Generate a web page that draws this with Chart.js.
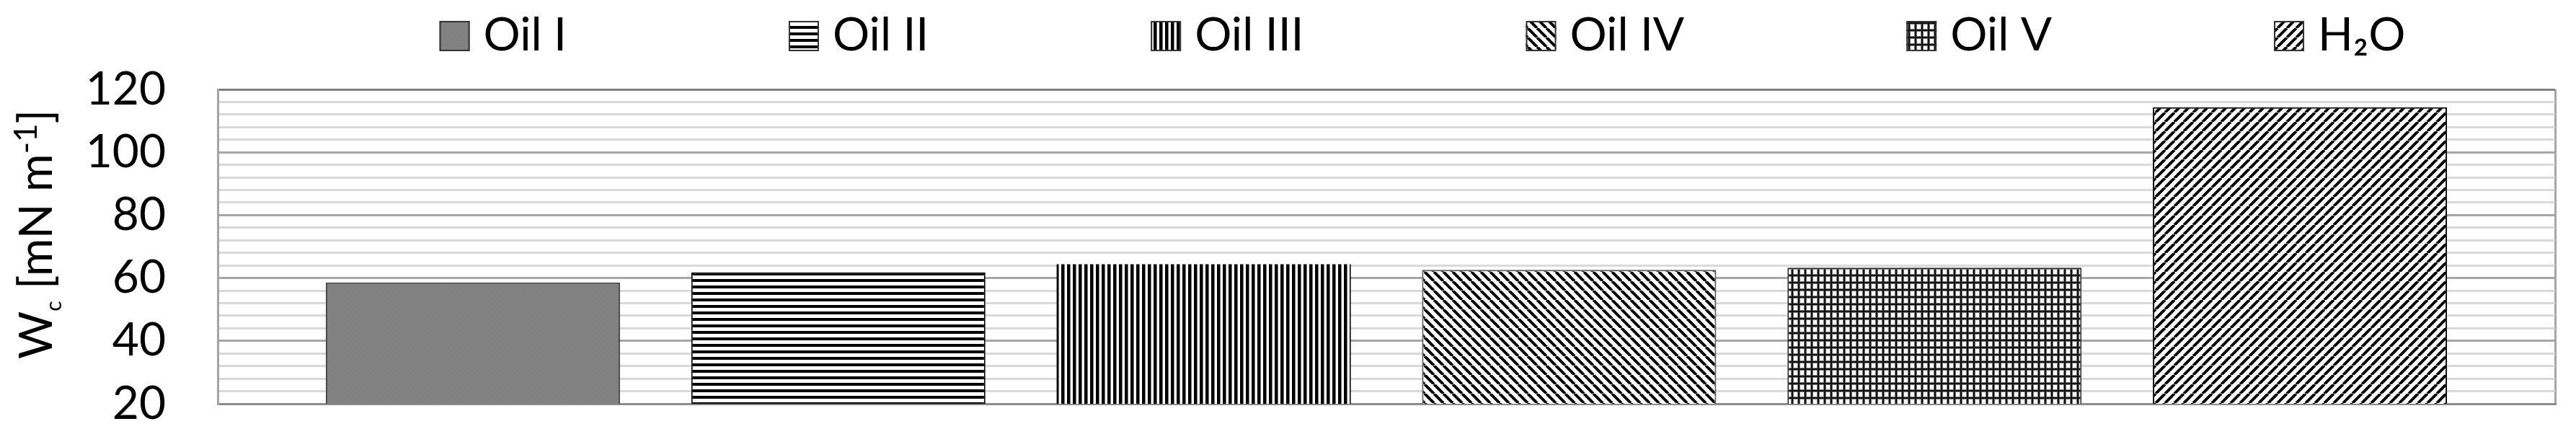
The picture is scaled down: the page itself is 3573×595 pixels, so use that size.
<!DOCTYPE html>
<html>
<head>
<meta charset="utf-8">
<script src="https://cdn.jsdelivr.net/npm/chart.js@4.4.0/dist/chart.umd.min.js"></script>
<style>
  html, body { margin: 0; padding: 0; background: #fff; }
  #wrap { width: 3573px; height: 595px; position: relative; }
</style>
</head>
<body>
<div id="wrap"><canvas id="wcChart"></canvas></div>
<script>
// Series shown (one category, one bar per liquid)
const seriesNames = ['Oil I', 'Oil II', 'Oil III', 'Oil IV', 'Oil V', 'H₂O'];
// Work of cohesion, mN/m
const workValues = [58.6, 61.8, 64.4, 62.6, 63.3, 114.3];
const categories = [''];
const yTickLabels = [20, 40, 60, 80, 100, 120];

const FONT = 'Lato, "Open Sans", sans-serif';

// Build the fill patterns used by the bars and the legend
function makePattern(kind) {
  const c = document.createElement('canvas');
  const g = c.getContext('2d');
  if (kind === 'dots') {
    c.width = 2; c.height = 2;
    g.fillStyle = '#777'; g.fillRect(0, 0, 2, 2);
    g.fillStyle = '#8a8a8a'; g.fillRect(0, 0, 1, 1); g.fillRect(1, 1, 1, 1);
  } else if (kind === 'hstripe') {
    c.width = 9; c.height = 9;
    g.fillStyle = '#fff'; g.fillRect(0, 0, 9, 9);
    g.fillStyle = '#000'; g.fillRect(0, 0, 9, 4);
  } else if (kind === 'vstripe') {
    c.width = 8; c.height = 8;
    g.fillStyle = '#fff'; g.fillRect(0, 0, 8, 8);
    g.fillStyle = '#777'; g.fillRect(0, 0, 5, 8);
    g.fillStyle = '#000'; g.fillRect(0, 0, 4, 8);
  } else if (kind === 'grid') {
    c.width = 9; c.height = 10;
    g.fillStyle = '#fff'; g.fillRect(0, 0, 9, 10);
    g.fillStyle = '#777'; g.fillRect(0, 0, 4, 10); g.fillRect(0, 0, 9, 4);
    g.fillStyle = '#111'; g.fillRect(1, 0, 2, 10); g.fillRect(0, 1, 9, 2);
  } else {
    // diagonal stripes, 'down' = \  and 'up' = /
    const w = 13, h = 13;
    c.width = w; c.height = h;
    g.fillStyle = '#fff'; g.fillRect(0, 0, w, h);
    g.strokeStyle = '#000'; g.lineWidth = 4;
    for (let k = -1; k <= 1; k++) {
      g.beginPath();
      if (kind === 'down') { g.moveTo(k * w, 0); g.lineTo(k * w + w, h); }
      else { g.moveTo(k * w, h); g.lineTo(k * w + w, 0); }
      g.stroke();
    }
  }
  const ctx = document.createElement('canvas').getContext('2d');
  return ctx.createPattern(c, 'repeat');
}

const fills = ['dots', 'hstripe', 'vstripe', 'down', 'grid', 'up'].map(makePattern);
const borders = ['#404040', '#000', '#000', '#595959', '#333', '#000'];
const borderWidths = [2, 2, 0, 2, 2, 2];

// Legend with pattern swatches, drawn above the plot
const patternLegend = {
  id: 'patternLegend',
  afterDraw(chart) {
    const ctx = chart.ctx;
    const box = 42, gapText = 19, gapItem = 308;
    ctx.save();
    ctx.font = '64px ' + FONT;
    ctx.textBaseline = 'alphabetic';
    ctx.textAlign = 'left';
    const widths = chart.data.datasets.map(d => ctx.measureText(d.label).width);
    const total = widths.reduce((a, w) => a + box + gapText + w, 0) + gapItem * (widths.length - 1);
    const area = chart.chartArea;
    let x = (area.left + area.right) / 2 + 50 - total / 2;
    chart.data.datasets.forEach((d, i) => {
      ctx.fillStyle = d.backgroundColor;
      ctx.fillRect(x, 29, box, box);
      ctx.strokeStyle = '#333';
      ctx.lineWidth = 2;
      ctx.strokeRect(x + 1, 30, box - 2, box - 2);
      ctx.fillStyle = '#000';
      ctx.fillText(d.label, x + box + gapText, 70);
      x += box + gapText + widths[i] + gapItem;
    });
    ctx.restore();
  }
};

// Rotated y axis title with subscript and superscript
const yTitle = {
  id: 'yTitle',
  afterDraw(chart) {
    const ctx = chart.ctx;
    const parts = [
      { t: 'W', size: 64, dy: 0 },
      { t: 'c', size: 30, dy: 13 },
      { t: ' [mN m', size: 64, dy: 0 },
      { t: '-1', size: 44, dy: -21 },
      { t: ']', size: 64, dy: 0 }
    ];
    ctx.save();
    ctx.fillStyle = '#000';
    ctx.textBaseline = 'alphabetic';
    ctx.textAlign = 'left';
    let len = 0;
    parts.forEach(p => { ctx.font = p.size + 'px ' + FONT; p.w = ctx.measureText(p.t).width; len += p.w; });
    ctx.translate(72, 325);
    ctx.rotate(-Math.PI / 2);
    let x = -len / 2;
    parts.forEach(p => {
      ctx.font = p.size + 'px ' + FONT;
      ctx.fillText(p.t, x, p.dy);
      x += p.w;
    });
    ctx.restore();
  }
};

const datasets = seriesNames.map((name, i) => ({
  label: name,
  data: [workValues[i]],
  backgroundColor: fills[i],
  borderColor: borders[i],
  borderWidth: borderWidths[i],
  borderSkipped: false,
  categoryPercentage: 0.938,
  barPercentage: 0.805
}));

new Chart(document.getElementById('wcChart'), {
  type: 'bar',
  data: { labels: categories, datasets: datasets },
  options: {
    responsive: true,
    maintainAspectRatio: false,
    devicePixelRatio: 1,
    animation: false,
    layout: { padding: { top: 124, right: 29, bottom: 35, left: 0 } },
    plugins: {
      legend: { display: false },
      tooltip: { enabled: false }
    },
    scales: {
      x: {
        ticks: { display: false },
        grid: { display: true, color: '#a6a6a6', lineWidth: 3, drawTicks: false },
        border: { display: true, color: '#8c8c8c', width: 3 }
      },
      y: {
        min: 20,
        max: 120,
        afterFit: axis => { axis.width = 302; },
        ticks: {
          stepSize: 4,
          autoSkip: false,
          padding: 0,
          color: '#000',
          font: { family: FONT, size: 64, lineHeight: 1 },
          callback: v => (yTickLabels.includes(v) ? String(v) : '')
        },
        grid: {
          drawTicks: true,
          tickLength: 72,
          tickColor: 'rgba(0,0,0,0)',
          lineWidth: 3,
          color: c => {
            const v = c.tick ? c.tick.value : 0;
            if (v === 120) return '#808080';
            return v % 20 === 0 ? '#a6a6a6' : '#d9d9d9';
          }
        },
        border: { display: true, color: '#a6a6a6', width: 3 }
      }
    }
  },
  plugins: [patternLegend, yTitle]
});
</script>
</body>
</html>
